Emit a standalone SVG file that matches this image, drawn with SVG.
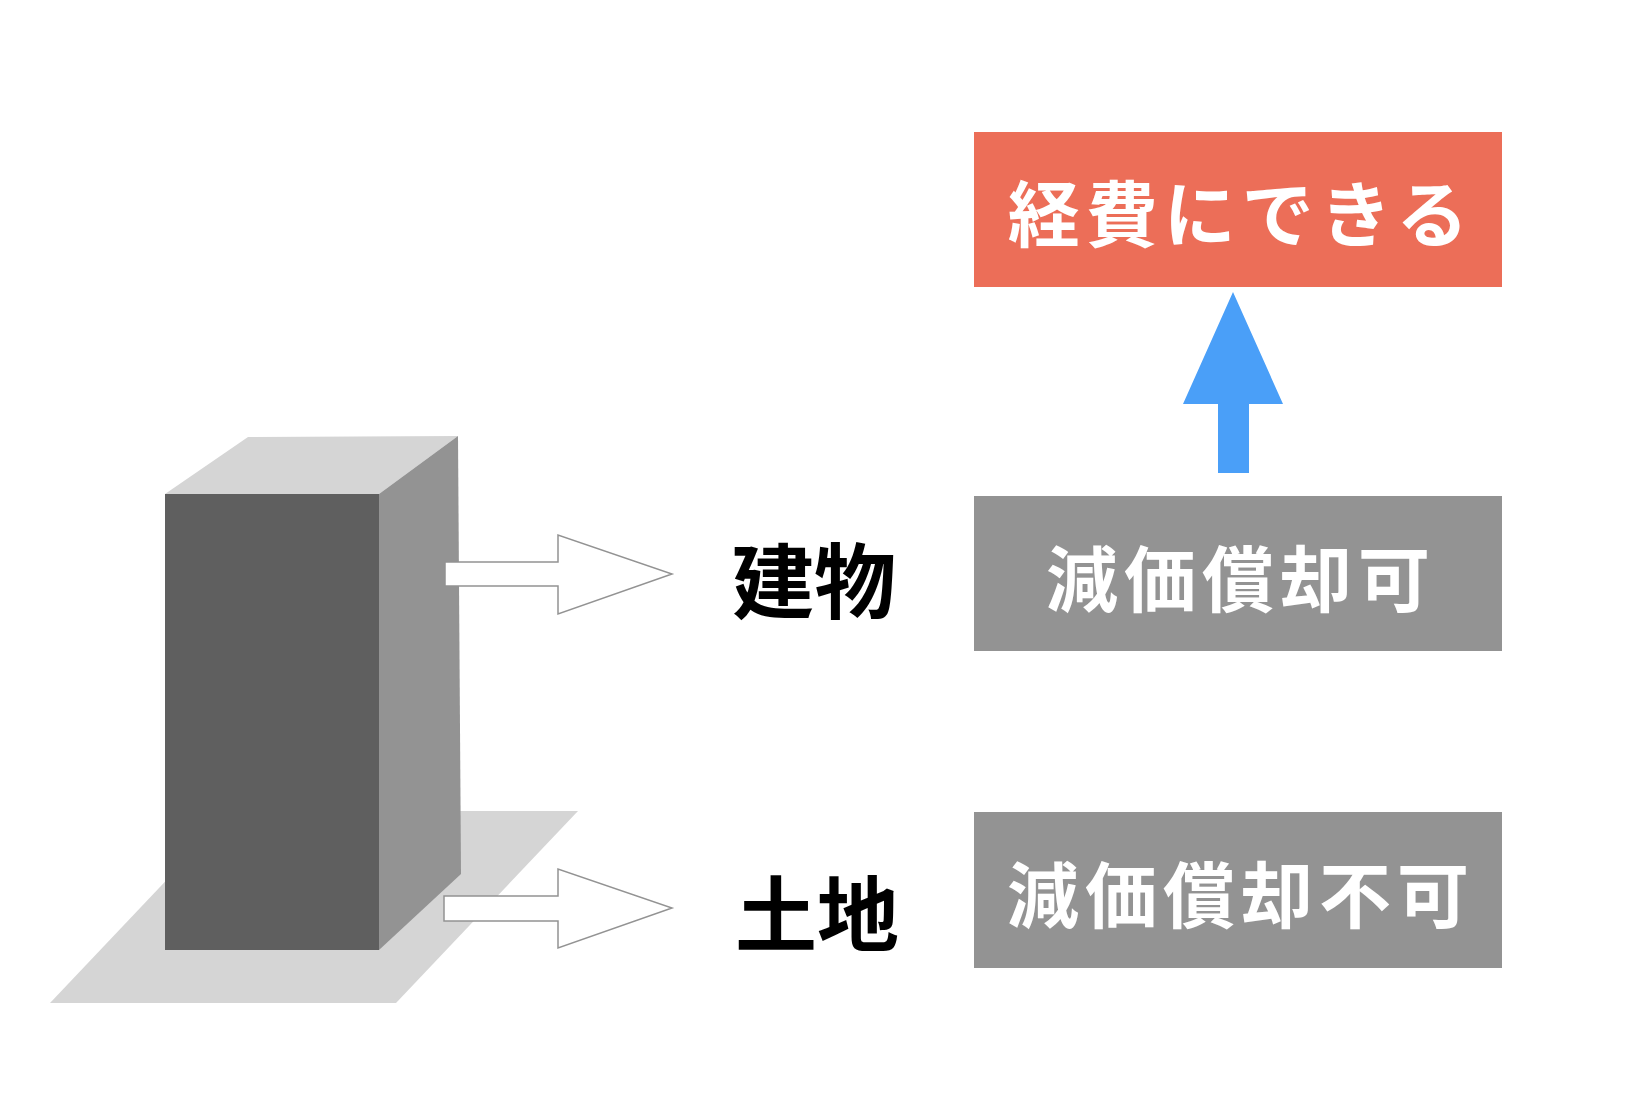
<svg xmlns="http://www.w3.org/2000/svg" width="1642" height="1118" viewBox="0 0 1642 1118">
<style>
.t{font-family:"Noto Sans CJK JP",sans-serif;font-weight:bold;text-anchor:middle;dominant-baseline:central}
.w{fill:#fff;font-size:72px;letter-spacing:6px}
.k{fill:#000;font-size:82px}
.box{fill:#939393}
.ha{fill:#fff;stroke:#939393;stroke-width:1.5}
</style>
<rect width="1642" height="1118" fill="#fff"/>
<g id="building">
<polygon points="50,1003 396,1003 578,811 232,811" fill="#D5D5D5"/>
<polygon points="165,494 248,437 458,436 379,494" fill="#D5D5D5"/>
<polygon points="379,494 458,436 461,874 379,950" fill="#939393"/>
<rect x="165" y="494" width="214" height="456" fill="#5F5F5F"/>
</g>
<g id="connectors">
<polygon class="ha" points="445,562 558,562 558,535 672,574 558,614 558,586 445,586"/>
<polygon class="ha" points="444,896 558,896 558,869 672,908 558,948 558,921 444,921"/>
<polygon points="1233,292 1283,404 1249,404 1249,473 1218,473 1218,404 1183,404" fill="#4A9FF8"/>
</g>
<g id="label-building"><text class="t k" x="814" y="576">建物</text></g>
<g id="label-land"><text class="t k" x="817" y="909">土地</text></g>
<g id="expense"><rect x="974" y="132" width="528" height="155" fill="#EC6E58"/><text class="t w" x="1241" y="209">経費にできる</text></g>
<g id="depreciable"><rect class="box" x="974" y="496" width="528" height="155"/><text class="t w" x="1241" y="574">減価償却可</text></g>
<g id="nondepreciable"><rect class="box" x="974" y="812" width="528" height="156"/><text class="t w" x="1241" y="890">減価償却不可</text></g>
</svg>
